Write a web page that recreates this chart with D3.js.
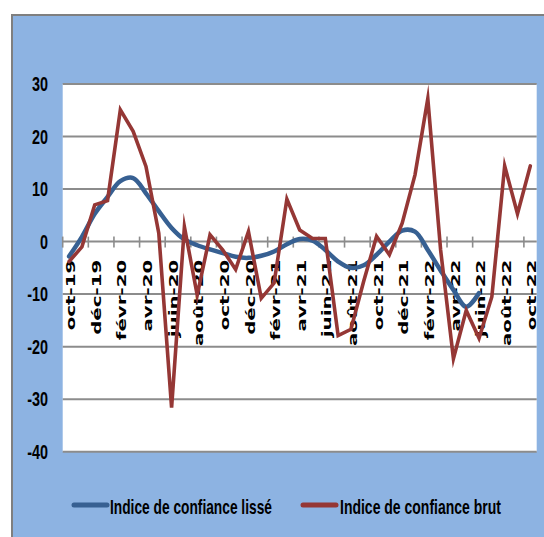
<!DOCTYPE html>
<html>
<head>
<meta charset="utf-8">
<script src="https://cdn.jsdelivr.net/npm/d3@7"></script>
<style>
  html, body { margin: 0; padding: 0; background: #ffffff; }
  svg { display: block; }
</style>
</head>
<body>
<svg id="chart" width="544" height="537"></svg>
<script>
// ---- Data ----
const categories = ["oct-19","nov-19","déc-19","janv-20","févr-20","mars-20","avr-20","mai-20","juin-20","juil-20","août-20","sept-20","oct-20","nov-20","déc-20","janv-21","févr-21","mars-21","avr-21","mai-21","juin-21","juil-21","août-21","sept-21","oct-21","nov-21","déc-21","janv-22","févr-22","mars-22","avr-22","mai-22","juin-22","juil-22","août-22","sept-22","oct-22"];
const tickLabels = ["oct-19","déc-19","févr-20","avr-20","juin-20","août-20","oct-20","déc-20","févr-21","avr-21","juin-21","août-21","oct-21","déc-21","févr-22","avr-22","juin-22","août-22","oct-22"];
const lisse = [-2.8, 0.9, 5.3, 8.5, 11.5, 12.1, 9.2, 5.8, 2.6, 0.4, -0.7, -1.5, -2.2, -2.9, -3.1, -2.7, -1.9, -0.5, 0.5, 0.2, -1.6, -3.8, -5.0, -4.5, -2.5, 0.0, 2.1, 1.9, -1.6, -5.5, -9.2, -12.4, -9.8, null, null, null, null];
const brut = [-3.8, -1.0, 7.0, 7.8, 25.1, 21.0, 14.3, 1.6, -31.6, 2.8, -10.2, 1.3, -1.6, -5.3, 1.9, -10.8, -7.9, 8.1, 2.2, 0.6, 0.6, -17.9, -16.7, -7.5, 1.0, -2.5, 3.5, 12.7, 27.2, -1.6, -22.3, -13.1, -18.4, -10.5, 14.4, 5.3, 14.4];
const yTicks = [30, 20, 10, 0, -10, -20, -30, -40];
const seriesNames = ["Indice de confiance lissé", "Indice de confiance brut"];
const seriesColors = ["#376092", "#953735"];

// ---- Layout ----
const svg = d3.select("#chart");
const plot = { left: 62.7, right: 536.7, top: 84, bottom: 451.7 };

// outer panel
svg.append("rect")
  .attr("x", 12).attr("y", 15)
  .attr("width", 545).attr("height", 540)
  .attr("fill", "#8db3e2")
  .attr("stroke", "#7f7f7f").attr("stroke-width", 2);

// plot area
svg.append("rect")
  .attr("x", plot.left).attr("y", plot.top)
  .attr("width", plot.right - plot.left).attr("height", plot.bottom - plot.top)
  .attr("fill", "#ffffff");

const x = d3.scaleBand().domain(categories).range([plot.left, plot.right]);
const y = d3.scaleLinear().domain([-40, 30]).range([plot.bottom, plot.top]);
const cx = c => x(c) + x.bandwidth() / 2;

// gridlines
svg.append("g").selectAll("line").data(yTicks).join("line")
  .attr("x1", plot.left).attr("x2", plot.right)
  .attr("y1", d => y(d)).attr("y2", d => y(d))
  .attr("stroke", "#8c8c8c").attr("stroke-width", 2);

// y labels
svg.append("g").selectAll("text").data(yTicks).join("text")
  .attr("transform", d => `translate(48,${y(d)}) scale(0.72,1)`)
  .attr("text-anchor", "end")
  .attr("dy", "0.36em")
  .attr("font-family", "Liberation Sans, Arial, sans-serif")
  .attr("font-weight", "bold")
  .attr("font-size", 20)
  .attr("fill", "#000")
  .text(d => d);

// x axis ticks (every two categories, at band boundaries)
const boundaries = d3.range(0, categories.length, 2).map(i => x(categories[i]));
svg.append("g").selectAll("line").data(boundaries).join("line")
  .attr("x1", d => d).attr("x2", d => d)
  .attr("y1", y(0) - 5).attr("y2", y(0) + 6)
  .attr("stroke", "#8c8c8c").attr("stroke-width", 1.6);

// x labels
svg.append("g").selectAll("text").data(tickLabels).join("text")
  .attr("transform", d => `translate(${cx(d) + 1.5},${y(0) + 18}) rotate(-90) scale(1.55,1)`)
  .attr("text-anchor", "end")
  .attr("dy", "0.36em")
  .attr("font-family", "DejaVu Sans, Verdana, sans-serif")
  .attr("font-weight", "bold")
  .attr("font-size", 12.8)
  .attr("fill", "#000")
  .text(d => d);

// lines
const lineSmooth = d3.line()
  .defined(d => d.v !== null)
  .x(d => cx(d.c)).y(d => y(d.v))
  .curve(d3.curveCatmullRom.alpha(0.5));
const lineStraight = d3.line()
  .defined(d => d.v !== null)
  .x(d => cx(d.c)).y(d => y(d.v));

svg.append("path")
  .datum(categories.map((c, i) => ({ c, v: lisse[i] })))
  .attr("d", lineSmooth)
  .attr("fill", "none")
  .attr("stroke", seriesColors[0])
  .attr("stroke-width", 4.5)
  .attr("stroke-linejoin", "round")
  .attr("stroke-linecap", "round");

svg.append("path")
  .datum(categories.map((c, i) => ({ c, v: brut[i] })))
  .attr("d", lineStraight)
  .attr("fill", "none")
  .attr("stroke", seriesColors[1])
  .attr("stroke-width", 3.6)
  .attr("stroke-linejoin", "miter")
  .attr("stroke-miterlimit", 10)
  .attr("stroke-linecap", "round");

// legend
const legendItems = [
  { name: seriesNames[0], color: seriesColors[0], x1: 74, x2: 107, tx: 110, tl: 162 },
  { name: seriesNames[1], color: seriesColors[1], x1: 303, x2: 336, tx: 340, tl: 161 }
];
const lg = svg.append("g");
lg.selectAll("line").data(legendItems).join("line")
  .attr("x1", d => d.x1).attr("x2", d => d.x2)
  .attr("y1", 505).attr("y2", 505)
  .attr("stroke", d => d.color).attr("stroke-width", 5)
  .attr("stroke-linecap", "round");
lg.selectAll("text").data(legendItems).join("text")
  .attr("x", 0).attr("y", 0)
  .attr("font-family", "Liberation Sans, Arial, sans-serif")
  .attr("font-weight", "bold")
  .attr("font-size", 20)
  .attr("fill", "#000")
  .text(d => d.name)
  .each(function(d) {
    const natural = this.getComputedTextLength();
    const s = d.tl / natural;
    d3.select(this).attr("transform", `translate(${d.tx},513.5) scale(${s},1)`);
  });
</script>
</body>
</html>
